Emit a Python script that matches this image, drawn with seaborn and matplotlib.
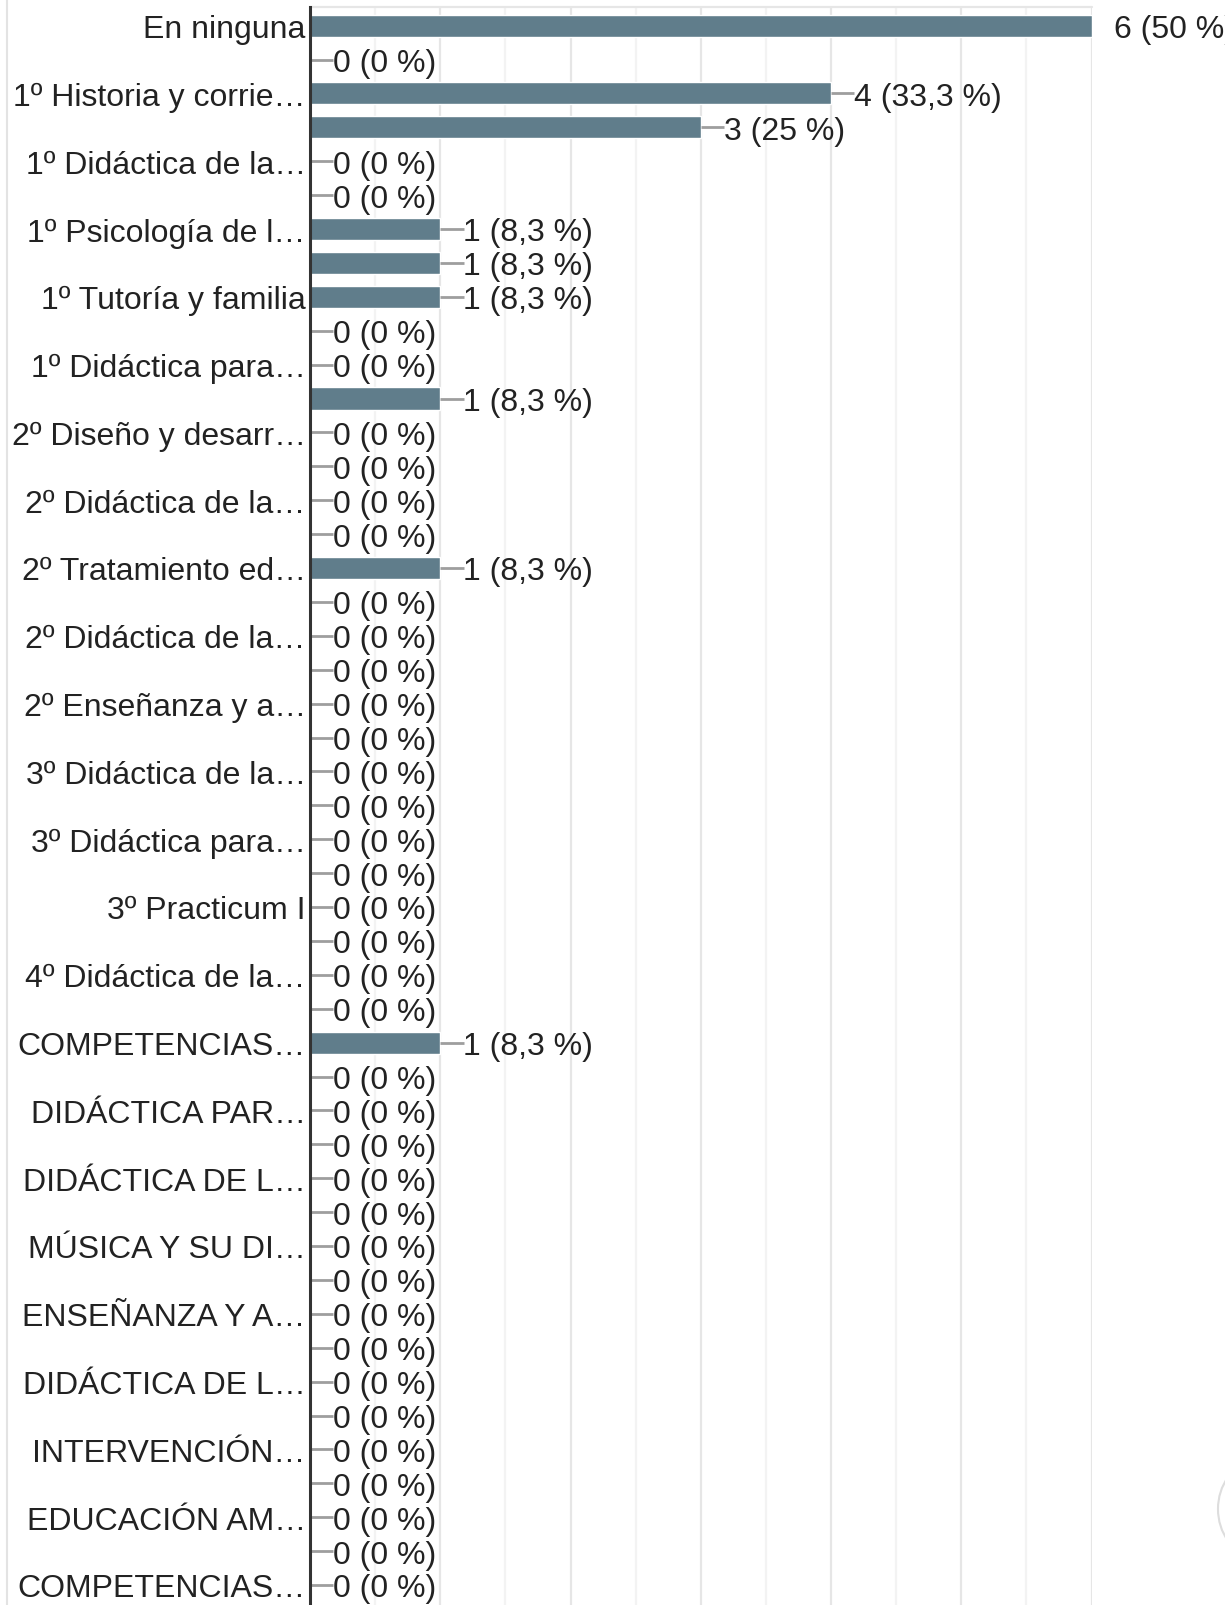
import matplotlib
matplotlib.use("Agg")
import matplotlib.pyplot as plt
import seaborn as sns
import pandas as pd
from matplotlib.patches import Circle
from matplotlib.lines import Line2D

# Category labels (every second row carries a visible label)
labels = [
    "En ninguna", "", "1º Historia y corrie…", "", "1º Didáctica de la…", "",
    "1º Psicología de l…", "", "1º Tutoría y familia", "", "1º Didáctica para…", "",
    "2º Diseño y desarr…", "", "2º Didáctica de la…", "", "2º Tratamiento ed…", "",
    "2º Didáctica de la…", "", "2º Enseñanza y a…", "", "3º Didáctica de la…", "",
    "3º Didáctica para…", "", "3º Practicum I", "", "4º Didáctica de la…", "",
    "COMPETENCIAS…", "", "DIDÁCTICA PAR…", "", "DIDÁCTICA DE L…", "",
    "MÚSICA Y SU DI…", "", "ENSEÑANZA Y A…", "", "DIDÁCTICA DE L…", "",
    "INTERVENCIÓN…", "", "EDUCACIÓN AM…", "", "COMPETENCIAS…",
]
# Number of answers per row
counts = [
    6, 0, 4, 3, 0, 0, 1, 1, 1, 0, 0, 1, 0, 0, 0, 0, 1,
    0, 0, 0, 0, 0, 0, 0, 0, 0, 0, 0, 0, 0,
    1,
    0, 0, 0, 0, 0, 0, 0, 0, 0, 0, 0, 0, 0, 0, 0, 0,
]
respondents = 12

BAR = "#607d8b"
TEXT = "#222222"
FONT = ["Liberation Sans", "DejaVu Sans"]
FS = 23

sns.set_style("white")
plt.rcParams["font.family"] = FONT

W, H = 1225, 1606
fig = plt.figure(figsize=(W / 100, H / 100), dpi=100)

# axes geometry (pixels)
x0_px, x6_px = 310, 1091.5
row0_px, row_h, top_px = 26.6, 33.9, 8
y_top, y_bot = -(row0_px - top_px) / row_h, 46.7
ax_h = row_h * (y_bot - y_top)
ax = fig.add_axes([x0_px / W, 1 - (top_px + ax_h) / H,
                   (x6_px - x0_px) / W, ax_h / H])

keys = [f"r{i:02d}" for i in range(len(counts))]
df = pd.DataFrame({"row": keys, "count": counts})
sns.barplot(data=df, x="count", y="row", order=keys, orient="h",
            color=BAR, saturation=1, width=0.65, ax=ax, zorder=3)

ax.set_xlim(0, 6)
ax.set_ylim(y_bot, y_top)

# vertical gridlines: integer steps darker, half steps lighter
for k in range(1, 13):
    xv = k / 2
    ax.axvline(xv, color="#e6e6e6" if k % 2 == 0 else "#f3f3f3",
               lw=1.6, zorder=1)
ax.axhline(y_top, color="#e6e6e6", lw=1.6, zorder=1, clip_on=False)

# value labels with leader lines
for i, v in enumerate(counts):
    pct = v / respondents * 100
    pct_s = f"{pct:.1f}".rstrip("0").rstrip(".").replace(".", ",")
    ax.plot([v, v + 0.18], [i, i], color="#9e9e9e", lw=2, zorder=4,
            solid_capstyle="butt", clip_on=True)
    ax.text(v + 0.175, i, f"{v} ({pct_s} %)", va="center_baseline", ha="left",
            fontsize=FS, color=TEXT, clip_on=False, zorder=5)

ax.set_yticks(range(len(labels)))
ax.set_yticklabels(labels, fontsize=FS, color=TEXT)
ax.tick_params(axis="y", length=0, pad=3)
ax.set_xticks([])
ax.set_xlabel("")
ax.set_ylabel("")
for s in ["top", "right", "bottom"]:
    ax.spines[s].set_visible(False)
ax.spines["left"].set_color("#333333")
ax.spines["left"].set_linewidth(2.2)
ax.spines["left"].set_zorder(6)

# card border on the left and floating button on the right edge
fig.add_artist(Line2D([7 / W, 7 / W], [0, 1], color="#e3e3e3", lw=1.5))
fig.add_artist(Circle((1252 / W, 1 - 1510 / H), 34 / W, transform=fig.transFigure,
                      facecolor="white", edgecolor="#dddddd", lw=1.5))

fig.savefig("out.png", dpi=100)
